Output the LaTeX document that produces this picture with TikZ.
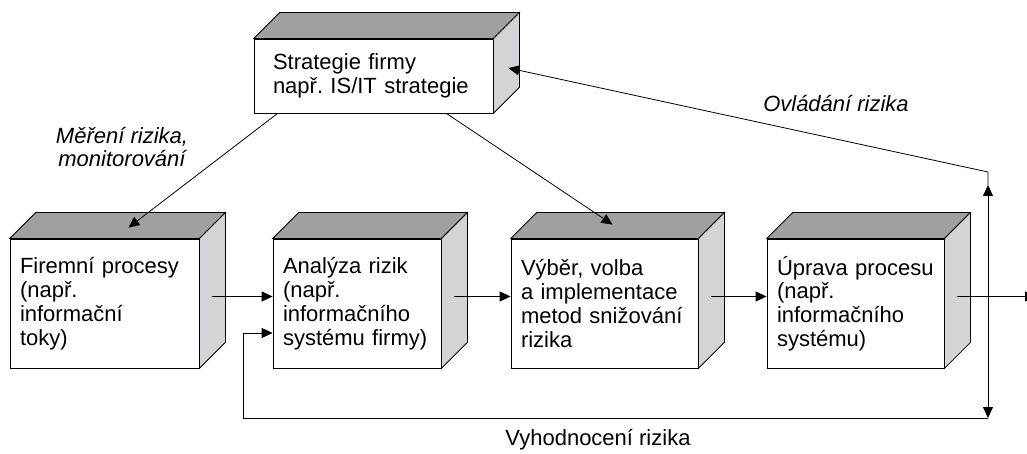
\documentclass[tikz,border=0pt]{standalone}
\usepackage{fontspec}
\setmainfont{Liberation Sans}
\usetikzlibrary{arrows.meta}
\frenchspacing
\definecolor{topface}{RGB}{160,160,162}
\definecolor{sideface}{RGB}{212,212,214}
\tikzset{
  cube/.style={draw, fill=white, rectangle, align=left, inner xsep=10pt, minimum height=129pt},
  arr/.style={-{Triangle[length=11pt,width=10pt]}},
  remark/.style={font=\fontsize{22}{23.8}\selectfont\itshape, align=center},
}
\begin{document}
\begin{tikzpicture}[x=1pt, y=-1pt, line width=0.8pt,
    every node/.style={font=\fontsize{22}{23.8}\selectfont}]
    \clip (0,0) rectangle (1027,454);
    \node[cube, text width=201pt, inner xsep=19pt, minimum height=74pt] (strat) at (373.5,76) {Strategie firmy\\např. IS/IT strategie};
    \node[cube, text width=169pt] (firm) at (104.5,303.5) {Firemní procesy\\(např.\\informační\\toky)};
    \node[cube, text width=148pt] (anal) at (357,303.5) {Analýza rizik\\(např.\\informačního\\systému firmy)};
    \node[cube, text width=167pt] (vyber) at (604.5,303.5) {Výběr, volba\\a implementace\\metod snižování\\rizika};
    \node[cube, text width=157pt] (uprava) at (855.5,303.5) {Úprava procesu\\(např.\\informačního\\systému)};
    % the 3D faces
    \foreach \n in {strat,firm,anal,vyber,uprava} {
        \draw[fill=topface] (\n.north west) -- ++(26,-26) -- ([shift={(26,-26)}]\n.north east) -- (\n.north east) -- cycle;
        \draw[fill=sideface] (\n.north east) -- ++(26,-26) -- ([shift={(26,-26)}]\n.south east) -- (\n.south east) -- cycle;
    }
    \coordinate (ctl) at (988,172);
    \coordinate (ctltip) at (988,185);
    \coordinate (eval) at (988,418);
    \coordinate (fbk) at (243,333);
    \coordinate (out) at (1036,296.5);
    \draw[arr] ([xshift=24pt]strat.south west) -- ([shift={(24,-11)}]firm.north);
    \draw[arr] ([xshift=-47pt]strat.south east) -- ([shift={(8,-14)}]vyber.north);
    \draw[arr] ([shift={(13,-7)}]firm.east) -- ([shift={(0,-7)}]anal.west);
    \draw[arr] ([shift={(13,-7)}]anal.east) -- ([shift={(0,-7)}]vyber.west);
    \draw[arr] ([shift={(13,-7)}]vyber.east) -- ([shift={(0,-7)}]uprava.west);
    \draw[arr] ([shift={(13,-7)}]uprava.east) -- (out);
    \draw[{Triangle[length=11pt,width=10pt]}-{Triangle[length=11pt,width=10pt]}] (ctltip) -- (eval);
    \draw[arr] (ctltip) -- (ctl) -- ([shift={(15,-8)}]strat.east);
    \draw[arr] (eval) -| (fbk) -- ([shift={(0,29.5)}]anal.west);
    \node[remark] (mereni) at (122,147) {Měření rizika,\\monitorování};
    \node[remark] (ovladani) at (836,104) {Ovládání rizika};
    \node (vyhodnoceni) at (598,440) {Vyhodnocení rizika};
\end{tikzpicture}
\end{document}
